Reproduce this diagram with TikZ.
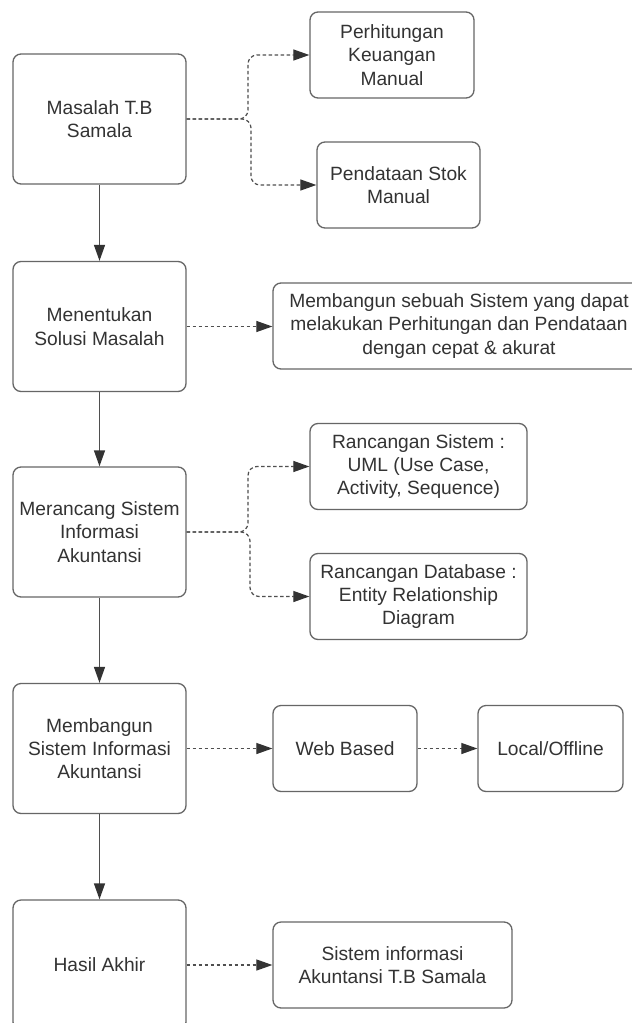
\documentclass[tikz,border=0pt]{standalone}
\usepackage{fontspec}
\setmainfont{Liberation Sans}
\usetikzlibrary{arrows.meta}
\definecolor{edge}{HTML}{666666}
\definecolor{ink}{HTML}{333333}
\definecolor{wire}{HTML}{4F4F4F}
\begin{document}
\begin{tikzpicture}[x=1pt,y=-1pt,
  box/.style={draw=edge, line width=1.3pt, rounded corners=8pt, align=center,
    text=ink, font=\fontsize{19.2}{23.3}\selectfont, inner sep=2pt},
  mainbox/.style={box, minimum width=173pt, minimum height=130pt},
  sidebox/.style={box, minimum height=86pt},
  tip/.style={-{Triangle[length=16pt,width=11pt,color=ink]}},
  flow/.style={draw=wire, line width=1.3pt, tip},
  dflow/.style={draw=wire, line width=1.2pt, dash pattern=on 3.5pt off 2.5pt, tip},
  branch/.style={dflow, rounded corners=9pt},
]
\fill[white] (0,0) rectangle (632,1023);
\useasboundingbox (0,0) rectangle (632,1023);

% main column of steps
\node[mainbox] (b1) at (99.5,119) {Masalah T.B\\Samala};
\node[mainbox] (b2) at (99.5,326.5) {Menentukan\\Solusi Masalah};
\node[mainbox] (b3) at (99.5,532) {Merancang Sistem\\Informasi\\Akuntansi};
\node[mainbox] (b4) at (99.5,748.5) {Membangun\\Sistem Informasi\\Akuntansi};
\node[mainbox] (b5) at (99.5,965) {Hasil Akhir};

% details of each step
\node[sidebox, minimum width=164pt] (p1) at (392,55) {Perhitungan\\Keuangan\\Manual};
\node[sidebox, minimum width=163pt] (p2) at (398.5,185) {Pendataan Stok\\Manual};
\node[sidebox, minimum width=372pt] (s1) at (459,326)
  {Membangun sebuah Sistem yang dapat\\melakukan Perhitungan dan Pendataan\\dengan cepat \& akurat};
\node[sidebox, minimum width=217pt] (r1) at (418.5,466.5)
  {Rancangan Sistem :\\UML (Use Case,\\Activity, Sequence)};
\node[sidebox, minimum width=217pt] (r2) at (418.5,596.5)
  {Rancangan Database :\\Entity Relationship\\Diagram};
\node[sidebox, minimum width=144pt] (w1) at (345,748.5) {Web Based};
\node[sidebox, minimum width=145pt] (l1) at (550.5,748.5) {Local/Offline};
\node[sidebox, minimum width=239pt] (h1) at (392.5,965)
  {Sistem informasi\\Akuntansi T.B Samala};

% flow between steps
\draw[flow] (b1.south) -- (b2.north);
\draw[flow] (b2.south) -- (b3.north);
\draw[flow] (b3.south) -- (b4.north);
\draw[flow] (b4.south) -- (b5.north);

% branching connectors
\coordinate (j1a) at (248,119);
\coordinate (j1b) at (251,119);
\coordinate (j3a) at (248,532);
\coordinate (j3b) at (250,532);
\draw[branch] (b1.east) -- (j1a) |- (p1.west);
\draw[branch] (b1.east) -- (j1b) |- (p2.west);
\draw[branch] (b3.east) -- (j3a) |- (r1.west);
\draw[branch] (b3.east) -- (j3b) |- (r2.west);

% straight connectors
\draw[dflow] (b2.east) -- (b2.east -| s1.west);
\draw[dflow] (b4.east) -- (w1.west);
\draw[dflow] (w1.east) -- (l1.west);
\draw[dflow] (b5.east) -- (h1.west);
\end{tikzpicture}
\end{document}
